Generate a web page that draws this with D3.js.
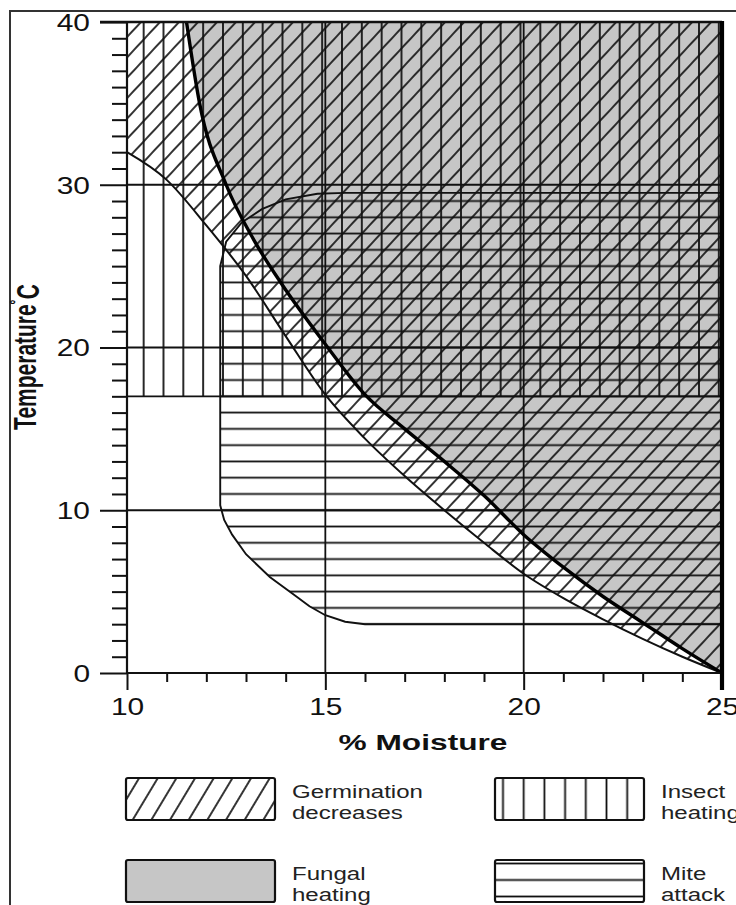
<!DOCTYPE html>
<html lang="en">
<head>
<meta charset="UTF-8">
<title>Moisture / temperature hazards for stored grain</title>
<script src="https://d3js.org/d3.v7.min.js"></script>
<style>
  body { margin: 0; background: #fff; }
  svg { display: block; font-family: "Liberation Sans", Arial, sans-serif; }
</style>
</head>
<body>
<svg width="736" height="905"></svg>
<script>
// values: [moisture %, temperature °C]
const xTicks = [10, 15, 20, 25];
const yTicks = [0, 10, 20, 30, 40];
const xMinor = [11, 12, 13, 14, 16, 17, 18, 19, 21, 22, 23, 24];
const yMinor = [1,2,3,4,5,6,7,8,9,11,12,13,14,15,16,17,18,19,21,22,23,24,25,26,27,28,29,31,32,33,34,35,36,37,38,39];

// thick edge of fungal heating zone
const fungalEdge = [[11.5,40],[11.83,35],[12.5,30],[13.2,26.6],[13.9,23.9],[15,20.2],[16,17.1],[17,15.0],[18,13.0],[19,10.9],[20,8.5],[21,6.5],[22,4.7],[23,3.1],[24,1.5],[25,0]];
// lower edge of germination-decreases zone
const germEdge = [[10,32],[11,30.3],[12,27.5],[13,24.4],[14,20.7],[15,17.1],[16,14.4],[17,12.1],[18,10.0],[19,8.0],[20,6.1],[21,4.6],[22,3.3],[23,2.1],[24,1.0],[25,0]];
// insect heating box
const insectMoisture = [10, 25];
const insectTemp = [17, 40];
// mite attack outline
const miteOutline = [[12.35,10.3],[12.35,25.0],[12.5,26.5],[12.9,27.7],[13.4,28.5],[14.0,29.1],[14.8,29.45],[15.5,29.5],[25,29.5],[25,3],[16,3],[15.5,3.15],[15.0,3.55],[14.6,4.1],[14.27,4.7],[13.6,5.9],[13.0,7.3],[12.65,8.5],[12.45,9.4]];

const legendLabels = [["Germination", "decreases"], ["Insect", "heating"], ["Fungal", "heating"], ["Mite", "attack"]];
const legendKinds = ["germ", "insect", "fungal", "mite"];

const svg = d3.select("svg");
const defs = svg.append("defs");
const ink = "#111";
const grey = "#c6c6c6";

const x = d3.scaleLinear().domain([10, 25]).range([127, 722]);
const y = d3.scaleLinear().domain([0, 40]).range([673, 22]);

// outer frame (runs off the right and bottom edges)
svg.append("rect")
  .attr("x", 10).attr("y", 11).attr("width", 760).attr("height", 920)
  .attr("fill", "none").attr("stroke", "#333").attr("stroke-width", 2);

// hatch patterns
function diagPattern(id, gap, rot) {
  const p = defs.append("pattern").attr("id", id)
    .attr("patternUnits", "userSpaceOnUse")
    .attr("width", gap).attr("height", gap)
    .attr("patternTransform", `rotate(${rot})`);
  p.append("line").attr("x1", gap / 2).attr("x2", gap / 2).attr("y1", -1).attr("y2", gap + 1)
    .attr("stroke", ink).attr("stroke-width", 1.7);
}
function linePattern(id, vertical, start, step) {
  const p = defs.append("pattern").attr("id", id)
    .attr("patternUnits", "userSpaceOnUse");
  if (vertical) {
    p.attr("x", start - step / 2).attr("y", 0).attr("width", step).attr("height", 10);
    p.append("line").attr("x1", step / 2).attr("x2", step / 2).attr("y1", -1).attr("y2", 11);
  } else {
    p.attr("x", 0).attr("y", start - step / 2).attr("width", 10).attr("height", step);
    p.append("line").attr("y1", step / 2).attr("y2", step / 2).attr("x1", -1).attr("x2", 11);
  }
  p.select("line").attr("stroke", ink).attr("stroke-width", 1.8);
}
diagPattern("diag", 13.9, 43);
diagPattern("legendDiag", 16, 31);
linePattern("vert", true, x(10.42), x(10.92) - x(10.42));
linePattern("horiz", false, y(40), y(39) - y(40));
linePattern("legendVert", true, 503, 20.7);
linePattern("legendHoriz", false, 863.5, 16.5);

const curve = d3.line().x(d => x(d[0])).y(d => y(d[1])).curve(d3.curveMonotoneX);
const poly = d3.line().x(d => x(d[0])).y(d => y(d[1]));

const plot = svg.append("g");

// fungal heating: grey fill right of the thick curve
plot.append("path")
  .attr("d", curve(fungalEdge) + `L${x(25)},${y(40)}Z`)
  .attr("fill", grey);

// germination decreases: diagonal hatch above its lower edge
plot.append("path")
  .attr("d", curve(germEdge) + `L${x(25)},${y(40)}L${x(10)},${y(40)}Z`)
  .attr("fill", "url(#diag)");

// insect heating: vertical hatch
plot.append("rect")
  .attr("x", x(insectMoisture[0])).attr("y", y(insectTemp[1]))
  .attr("width", x(insectMoisture[1]) - x(insectMoisture[0]))
  .attr("height", y(insectTemp[0]) - y(insectTemp[1]))
  .attr("fill", "url(#vert)");

// mite attack: horizontal hatch
plot.append("path")
  .attr("d", poly(miteOutline) + "Z")
  .attr("fill", "url(#horiz)");

// grid lines
plot.selectAll(".hgrid").data([10, 20, 30]).enter().append("line")
  .attr("x1", x(10)).attr("x2", x(25))
  .attr("y1", d => y(d)).attr("y2", d => y(d))
  .attr("stroke", ink).attr("stroke-width", 1.8);
plot.selectAll(".vgrid").data([15, 20]).enter().append("line")
  .attr("x1", d => x(d)).attr("x2", d => x(d))
  .attr("y1", y(40)).attr("y2", y(0))
  .attr("stroke", ink).attr("stroke-width", 1.8);

// zone outlines
plot.append("line")
  .attr("x1", x(insectMoisture[0])).attr("x2", x(insectMoisture[1]))
  .attr("y1", y(insectTemp[0])).attr("y2", y(insectTemp[0]))
  .attr("stroke", ink).attr("stroke-width", 1.8);
plot.append("path").attr("d", poly(miteOutline) + "Z")
  .attr("fill", "none").attr("stroke", ink).attr("stroke-width", 1.9);
plot.append("path").attr("d", curve(germEdge))
  .attr("fill", "none").attr("stroke", ink).attr("stroke-width", 2);
plot.append("path").attr("d", curve(fungalEdge))
  .attr("fill", "none").attr("stroke", "#000").attr("stroke-width", 3.4);

// axes
function styleAxis(g) {
  g.select(".domain").remove();
  g.selectAll(".tick line").attr("stroke", ink).attr("stroke-width", 2);
}
svg.append("g").attr("transform", `translate(${x(10)},0)`)
  .call(d3.axisLeft(y).tickValues(yMinor).tickSize(15).tickFormat(""))
  .call(styleAxis);
svg.append("g").attr("transform", `translate(${x(10)},0)`)
  .call(d3.axisLeft(y).tickValues(yTicks).tickSize(27))
  .call(styleAxis)
  .call(g => g.selectAll(".tick text")
    .attr("x", null).attr("dy", "0.36em")
    .attr("text-anchor", "end").attr("fill", "#111")
    .attr("font-size", 23)
    .attr("transform", "translate(-37,0) scale(1.3,1)"));
svg.append("g").attr("transform", `translate(0,${y(0)})`)
  .call(d3.axisBottom(x).tickValues(xMinor).tickSize(9).tickFormat(""))
  .call(styleAxis);
svg.append("g").attr("transform", `translate(0,${y(0)})`)
  .call(d3.axisBottom(x).tickValues(xTicks).tickSize(17))
  .call(styleAxis)
  .call(g => g.selectAll(".tick text")
    .attr("y", null).attr("dy", null)
    .attr("text-anchor", "middle").attr("fill", "#111")
    .attr("font-size", 23)
    .attr("transform", "translate(0,42) scale(1.3,1)"));
svg.selectAll("g .tick text").attr("font-family", "Liberation Sans, Arial, sans-serif");

// axis lines and the heavy frame of the plot
svg.append("line").attr("x1", x(10)).attr("x2", x(25)).attr("y1", y(0)).attr("y2", y(0))
  .attr("stroke", ink).attr("stroke-width", 2.2);
svg.append("line").attr("x1", x(10)).attr("x2", x(10)).attr("y1", y(40)).attr("y2", y(0))
  .attr("stroke", ink).attr("stroke-width", 2.2);
svg.append("line").attr("x1", x(10) - 27).attr("x2", x(25)).attr("y1", y(40)).attr("y2", y(40))
  .attr("stroke", ink).attr("stroke-width", 2.6);
svg.append("line").attr("x1", x(25)).attr("x2", x(25)).attr("y1", y(40) - 1).attr("y2", y(0) + 17)
  .attr("stroke", "#000").attr("stroke-width", 4.2);

// axis titles
svg.append("text")
  .attr("transform", `translate(423,750) scale(1.44,1)`)
  .attr("text-anchor", "middle").attr("font-size", 22).attr("font-weight", "bold")
  .attr("fill", "#111").text("% Moisture");
const yt = svg.append("text")
  .attr("transform", `translate(36,357) scale(1.45,1) rotate(-90)`)
  .attr("text-anchor", "middle").attr("font-size", 21).attr("font-weight", "bold")
  .attr("fill", "#111");
yt.append("tspan").text("Temperature");
yt.append("tspan").attr("dy", "-0.35em").attr("font-size", 15).text("˚");
yt.append("tspan").attr("dy", "0.35em").text("C");

// legend
const boxX = [126, 495], boxY = [778, 860], boxW = 149, boxH = 42;
const legendFill = { germ: "url(#legendDiag)", insect: "url(#legendVert)", fungal: grey, mite: "url(#legendHoriz)" };
const legend = svg.append("g");
legendLabels.forEach((lines, i) => {
  const bx = boxX[i % 2], by = boxY[Math.floor(i / 2)];
  legend.append("rect")
    .attr("x", bx).attr("y", by).attr("width", boxW).attr("height", boxH).attr("rx", 2)
    .attr("fill", legendFill[legendKinds[i]])
    .attr("stroke", ink).attr("stroke-width", 2.2);
  lines.forEach((t, j) => {
    legend.append("text")
      .attr("transform", `translate(${bx + 166},${by + 20 + j * 21}) scale(1.3,1)`)
      .attr("font-size", 18.5).attr("fill", "#222").text(t);
  });
});
</script>
</body>
</html>
